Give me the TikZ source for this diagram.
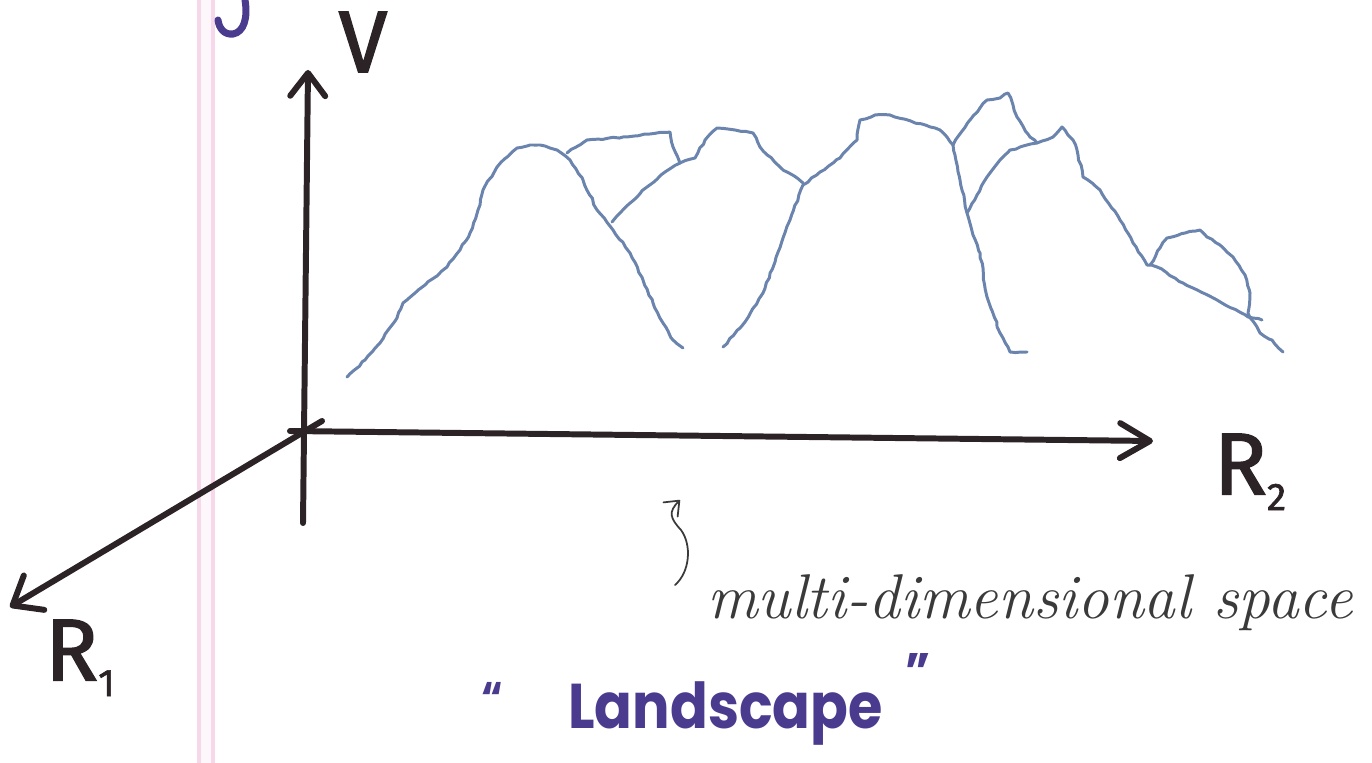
\documentclass[tikz,border=0pt]{standalone}
\usepackage{fontspec}
\newfontfamily\axisfont[FakeBold=1.6]{Fira Sans}
\newfontfamily\landfont[FakeStretch=0.88]{Poppins}
\usepackage{xcolor}
\definecolor{cInk}{HTML}{2B2326}
\definecolor{cRidge}{HTML}{6A84AE}
\definecolor{cPurple}{HTML}{4B3B8E}
\definecolor{cPencil}{HTML}{3A3A3A}
\definecolor{cMargin}{HTML}{F6D8EA}
\usetikzlibrary{positioning,arrows.meta,decorations.pathmorphing}
\tikzset{
  axis-line/.style={draw=cInk,line width=3.4pt,line cap=round},
  axis-arrow/.style={axis-line,-{Straight Barb[round,length=5mm,width=8mm]}},
  ridge/.style={draw=cRidge,line width=1.7pt,line cap=round,line join=round,
    decorate,decoration={random steps,segment length=3pt,amplitude=0.45pt}},
  margin-line/.style={draw=cMargin,line width=1.8pt},
  label-axis/.style={text=cInk,inner sep=0pt,
    font=\axisfont\fontsize{50}{50}\selectfont},
  label-note/.style={text=cPencil,inner sep=0pt,
    font=\itshape\fontsize{36}{36}\selectfont},
  label-title/.style={text=cPurple,inner sep=0pt,
    font=\landfont\bfseries\fontsize{36}{36}\selectfont},
  note-arrow/.style={draw=cPencil,line width=1pt,line cap=round,
    -{Straight Barb[round,length=2.5mm,width=4mm]}},
}
\newcommand{\axissub}[1]{\raisebox{-9pt}{\fontsize{22}{22}\selectfont #1}}

\begin{document}
\begin{tikzpicture}[x=0.02cm,y=-0.02cm]
  \useasboundingbox (0,0) rectangle (1372,763);
  % notebook margin
  \fill[cMargin!20] (199,0) rectangle (213,763);
  \foreach \mx in {199,213}
    \draw[margin-line] (\mx,0) -- (\mx,763);
  % tail of a letter from the line above
  \draw[draw=cPurple,line width=4pt,line cap=round]
    (245,0) .. controls (248,18) and (244,32) .. (233,34)
    .. controls (224,35) and (219,28) .. (218,20);

  % axes
  \coordinate (O) at (300,432);
  \coordinate (vBot) at (303,523);
  \coordinate (vTop) at (308,70);
  \coordinate (rOneTail) at (322,421);
  \coordinate (rOneEnd) at (10,607);
  \coordinate (rTwoTail) at (290,431);
  \coordinate (rTwoEnd) at (1153,441);
  \draw[axis-arrow,-{Straight Barb[round,length=4.6mm,width=7mm]}] (vBot) -- (vTop);
  \draw[axis-arrow] (rOneTail) -- (rOneEnd);
  \draw[axis-arrow,-{Straight Barb[round,length=6mm,width=7mm]}] (rTwoTail) -- (rTwoEnd);
  \node[label-axis] (labV) at (363,42) {V};
  \node[label-axis] (labRone) at (80,658) {R\axissub{1}};
  \node[label-axis] (labRtwo) at (1250,472) {R\axissub{2}};

  % landscape ridges
  \draw[ridge] (347,377) -- (365,360) -- (380,343) -- (397,318) -- (403,303)
    -- (425,285) -- (447,267) -- (460,250) -- (470,233) -- (478,210)
    -- (483,190) -- (497,167) -- (517,148) -- (530,145) -- (540,145)
    -- (557,150) -- (570,160) -- (583,180) -- (597,210) -- (613,230)
    -- (630,253) -- (643,280) -- (653,303) -- (663,323) -- (673,340) -- (683,348);
  \draw[ridge] (567,153) -- (587,140) -- (623,137) -- (650,134) -- (670,132)
    -- (673,147) -- (680,163) -- (695,158) -- (705,140) -- (717,128)
    -- (735,130) -- (753,133) -- (760,147) -- (780,167) -- (803,183);
  \draw[ridge] (680,163) -- (665,172) -- (647,187) -- (620,213) -- (612,222);
  \draw[ridge] (723,347) -- (745,322) -- (763,293) -- (775,262) -- (790,220)
    -- (803,185) -- (820,172) -- (840,158) -- (857,140) -- (860,120)
    -- (875,115) -- (890,115) -- (940,130) -- (947,137) -- (953,145)
    -- (960,180) -- (967,213) -- (973,235) -- (980,253) -- (987,297)
    -- (1000,333) -- (1010,352) -- (1027,352);
  \draw[ridge] (953,145) -- (970,120) -- (987,100) -- (1000,98) -- (1008,93)
    -- (1013,105) -- (1017,117) -- (1030,137) -- (1037,143);
  \draw[ridge] (967,213) -- (977,195) -- (987,177) -- (1000,160) -- (1010,150)
    -- (1037,143) -- (1053,137) -- (1062,127) -- (1073,140) -- (1077,150)
    -- (1083,177) -- (1100,190) -- (1120,220) -- (1133,243) -- (1147,265)
    -- (1157,267) -- (1183,283) -- (1217,300) -- (1248,317) -- (1262,320);
  \draw[ridge] (1150,265) -- (1160,248) -- (1167,238) -- (1185,233) -- (1200,230)
    -- (1207,237) -- (1220,245) -- (1233,257) -- (1245,275) -- (1250,293)
    -- (1248,313) -- (1260,333) -- (1272,340) -- (1283,352);

  % notes
  \node[label-note,anchor=base west] (labSpace) at (707,618) {multi-dimensional space};
  \coordinate (sqBot) at (675,585);
  \coordinate (sqTip) at (680,500);
  \draw[note-arrow] (sqBot) .. controls (690,572) and (692,545) .. (681,530)
    .. controls (670,518) and (668,512) .. (sqTip);
  \node[label-title,font=\landfont\bfseries\fontsize{26}{26}\selectfont] (qOpen) at (492,698) {“};
  \node[label-title,anchor=base west] (labLand) at (568,728) {Landscape};
  \node[label-title,font=\landfont\bfseries\fontsize{30}{30}\selectfont] (qClose) at (918,672) {”};
\end{tikzpicture}
\end{document}
